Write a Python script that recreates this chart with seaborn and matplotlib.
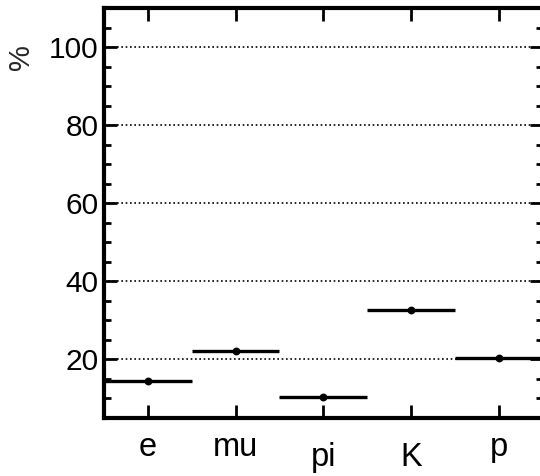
import matplotlib
matplotlib.use("Agg")
import matplotlib.pyplot as plt
import seaborn as sns
import numpy as np
import pandas as pd

# particle species and their fractions (%)
species = ["e", "mu", "pi", "K", "p"]
fraction = [14.5, 22.2, 10.5, 32.6, 20.4]
half_width = 0.5

sns.set_theme(style="ticks")
plt.rcParams["font.family"] = ["Liberation Sans", "DejaVu Sans"]

df = pd.DataFrame({"species": species, "fraction": fraction})
df["pos"] = np.arange(len(species))

fig = plt.figure(figsize=(5.4, 4.76), dpi=100)
ax = fig.add_axes([104 / 540, 58 / 476, 438.5 / 540, 410 / 476])

# horizontal bin bars, then the central points
ax.hlines(df["fraction"], df["pos"] - half_width, df["pos"] + half_width,
          color="black", linewidth=2.4, zorder=3)
sns.scatterplot(data=df, x="pos", y="fraction", ax=ax, color="black",
                s=32, edgecolor="black", linewidth=0, zorder=4, legend=False)

ax.set_xlim(-0.5, len(species) - 0.5)
ax.set_ylim(5, 110)
ax.set_xticks(df["pos"])
ax.set_xticklabels(species, fontsize=23.5)
ax.set_yticks([20, 40, 60, 80, 100])
ax.set_yticks(np.arange(10, 110, 5), minor=True)
ax.tick_params(axis="y", labelsize=21.5, pad=4)
ax.tick_params(axis="x", pad=10)

ax.tick_params(which="major", direction="in", length=9.5, width=2,
               top=True, right=True, color="black", labelcolor="black")
ax.tick_params(which="minor", direction="in", length=4.7, width=2,
               left=True, right=True, color="black")
ax.tick_params(axis="x", which="minor", bottom=False, top=False)

ax.yaxis.grid(True, which="major", linestyle=(0, (1, 1.6)), color="black",
              linewidth=1.2)
ax.xaxis.grid(False)

for sp in ax.spines.values():
    sp.set_linewidth(3)
    sp.set_color("black")
    sp.set_visible(True)

# staggered labels for pi and K
for i, lab in enumerate(ax.get_xticklabels()):
    if species[i] in ("pi", "K"):
        lab.set_y(-10 / 410)

ax.set_xlabel("")
ax.set_ylabel("%", fontsize=21)
ax.yaxis.set_label_coords(-0.157, 0.88)

fig.savefig("out.png", dpi=100)
